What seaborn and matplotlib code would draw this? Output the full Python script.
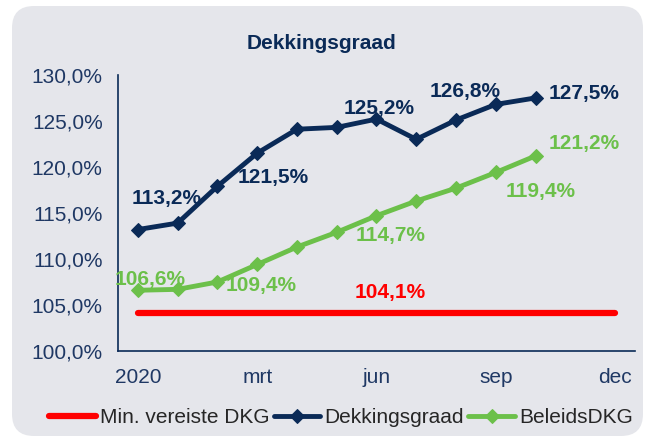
import matplotlib
matplotlib.use("Agg")
import numpy as np
import pandas as pd
import matplotlib.pyplot as plt
from matplotlib.patches import FancyBboxPatch
import seaborn as sns

# %% data
months = ["dec19", "jan", "feb", "mrt", "apr", "mei", "jun", "jul", "aug", "sep", "okt", "nov", "dec"]
dekkingsgraad = [113.2, 113.9, 117.9, 121.5, 124.1, 124.3, 125.2, 123.0, 125.1, 126.8, 127.5]
beleidsdkg = [106.6, 106.7, 107.5, 109.4, 111.3, 112.9, 114.7, 116.3, 117.7, 119.4, 121.2]
min_dkg = [104.1] * 13
tick_labels = ["2020", "mrt", "jun", "sep", "dec"]
tick_idx = [0, 3, 6, 9, 12]

navy = "#0A2A57"
green = "#6CC04A"
red = "#FF0000"
txt = "#1F3864"
fs = 15

# %% plot
sns.set_style("white")
plt.rcParams["font.family"] = ["Liberation Sans", "DejaVu Sans"]

fig = plt.figure(figsize=(6.47, 4.46), dpi=100, facecolor="white")
panel = FancyBboxPatch((0.12 + 0.22, 0.10 + 0.22), 6.31 - 0.44, 4.30 - 0.44,
                       boxstyle="round,pad=0.22", transform=fig.dpi_scale_trans,
                       facecolor="#E5E6EB", edgecolor="none", zorder=-5)
fig.patches.append(panel)

ax = fig.add_axes([0.1824, 0.213, 0.799, 0.619])
ax.set_facecolor("none")
ax.set_zorder(1)

df_min = pd.DataFrame({"x": np.arange(len(min_dkg)), "y": min_dkg})
df_dkg = pd.DataFrame({"x": np.arange(len(dekkingsgraad)), "y": dekkingsgraad})
df_bel = pd.DataFrame({"x": np.arange(len(beleidsdkg)), "y": beleidsdkg})

sns.lineplot(data=df_min, x="x", y="y", ax=ax, color=red, lw=4.5,
             solid_capstyle="round", label="Min. vereiste DKG")
sns.lineplot(data=df_dkg, x="x", y="y", ax=ax, color=navy, lw=3.5,
             marker="D", markersize=7, markeredgecolor=navy, label="Dekkingsgraad")
sns.lineplot(data=df_bel, x="x", y="y", ax=ax, color=green, lw=3.5,
             marker="D", markersize=7, markeredgecolor=green, label="BeleidsDKG")

ax.set_xlim(-0.5, 12.5)
ax.set_ylim(100, 130)
ax.set_xlabel("")
ax.set_ylabel("")

ax.set_yticks(np.arange(100, 131, 5))
ax.set_yticklabels([f"{v:.1f}%".replace(".", ",") for v in np.arange(100, 131, 5)])
ax.set_xticks(np.arange(-0.5, 13, 1))
ax.set_xticklabels([])
ax.set_xticks(tick_idx, minor=True)
ax.set_xticklabels(tick_labels, minor=True)
ax.tick_params(axis="x", which="major", length=6, width=1, color=navy, direction="out")
ax.tick_params(axis="x", which="minor", length=0, pad=12, labelsize=fs, labelcolor=txt)
ax.tick_params(axis="y", length=6, width=1, color=navy, direction="out",
               labelsize=fs, labelcolor=txt, pad=5)
for s in ["top", "right"]:
    ax.spines[s].set_visible(False)
for s in ["left", "bottom"]:
    ax.spines[s].set_color(navy)
    ax.spines[s].set_linewidth(1.2)

fmt = lambda v: f"{v:.1f}%".replace(".", ",")

# data labels
dkg_lab = {0: (29, 31, "center"), 3: (16, -24, "center"), 6: (3, 11, "center"),
           9: (-31, 13, "center"), 10: (13, 4, "left")}
bel_lab = {0: (12, 11, "center"), 3: (4, -21, "center"), 6: (14, -20, "center"),
           9: (45, -19, "center"), 10: (13, 12, "left")}
for i, (dx, dy, ha) in dkg_lab.items():
    ax.annotate(fmt(dekkingsgraad[i]), (i, dekkingsgraad[i]), xytext=(dx, dy),
                textcoords="offset pixels", ha=ha, va="center", fontsize=fs,
                fontweight="bold", color=navy)
for i, (dx, dy, ha) in bel_lab.items():
    ax.annotate(fmt(beleidsdkg[i]), (i, beleidsdkg[i]), xytext=(dx, dy),
                textcoords="offset pixels", ha=ha, va="center", fontsize=fs,
                fontweight="bold", color=green)
ax.annotate(fmt(min_dkg[6]), (6, min_dkg[6]), xytext=(14, 21), textcoords="offset pixels",
            ha="center", va="center", fontsize=fs, fontweight="bold", color=red)

fig.text(0.497, 0.903, "Dekkingsgraad", ha="center", va="center", fontsize=fs,
         fontweight="bold", color=navy)

handles, labels = ax.get_legend_handles_labels()
ax.get_legend().remove()
fig.legend(handles, labels, loc="center", bbox_to_anchor=(0.527, 0.063), ncol=3,
           frameon=False, fontsize=fs, handlelength=2.25, handletextpad=0.2,
           columnspacing=0.2, markerscale=1.0)

fig.savefig("out.png", dpi=100, facecolor="white")
